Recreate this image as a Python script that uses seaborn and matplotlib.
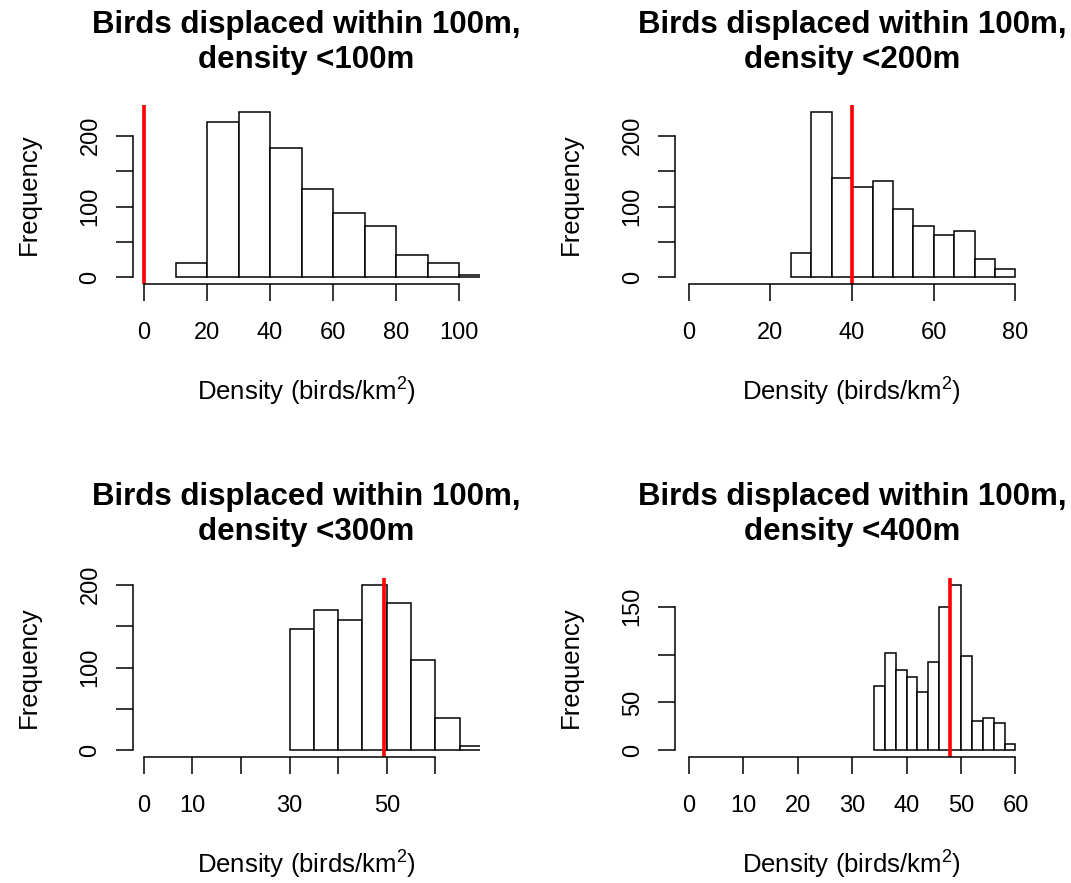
import numpy as np
import pandas as pd
import matplotlib
matplotlib.use("Agg")
import matplotlib.pyplot as plt
import seaborn as sns

# --- data ---
titles = [
    ("Birds displaced within 100m,", "density <100m"),
    ("Birds displaced within 100m,", "density <200m"),
    ("Birds displaced within 100m,", "density <300m"),
    ("Birds displaced within 100m,", "density <400m"),
]

p1_breaks = [10, 20, 30, 40, 50, 60, 70, 80, 90, 100, 110]
p1_counts = [20, 219, 234, 183, 125, 91, 72, 32, 20, 3]
p1_vline = 0
p1_xticks = [0, 20, 40, 60, 80, 100]
p1_xlabels = ["0", "20", "40", "60", "80", "100"]
p1_yticks = [0, 50, 100, 150, 200]
p1_ylabels = ["0", "", "100", "", "200"]
p1_xlim = (-3.6, 106.6)

p2_breaks = [25, 30, 35, 40, 45, 50, 55, 60, 65, 70, 75, 80]
p2_counts = [34, 234, 141, 127, 136, 96, 72, 60, 65, 26, 12]
p2_vline = 40
p2_xticks = [0, 20, 40, 60, 80]
p2_xlabels = ["0", "20", "40", "60", "80"]
p2_yticks = [0, 50, 100, 150, 200]
p2_ylabels = ["0", "", "100", "", "200"]
p2_xlim = (-3.4, 83.3)

p3_breaks = [30, 35, 40, 45, 50, 55, 60, 65, 70]
p3_counts = [147, 169, 157, 200, 178, 109, 39, 5]
p3_vline = 49.5
p3_xticks = [0, 10, 20, 30, 40, 50, 60]
p3_xlabels = ["0", "10", "", "30", "", "50", ""]
p3_yticks = [0, 50, 100, 150, 200]
p3_ylabels = ["0", "", "100", "", "200"]
p3_xlim = (-2.3, 69.2)

p4_breaks = [34, 36, 38, 40, 42, 44, 46, 48, 50, 52, 54, 56, 58, 60]
p4_counts = [67, 102, 84, 77, 61, 92, 150, 173, 98, 31, 34, 29, 7]
p4_vline = 48
p4_xticks = [0, 10, 20, 30, 40, 50, 60]
p4_xlabels = ["0", "10", "20", "30", "40", "50", "60"]
p4_yticks = [0, 50, 100, 150]
p4_ylabels = ["0", "50", "", "150"]
p4_xlim = (-2.55, 62.45)

panels = [
    (p1_breaks, p1_counts, p1_vline, p1_xticks, p1_xlabels, p1_yticks, p1_ylabels, p1_xlim),
    (p2_breaks, p2_counts, p2_vline, p2_xticks, p2_xlabels, p2_yticks, p2_ylabels, p2_xlim),
    (p3_breaks, p3_counts, p3_vline, p3_xticks, p3_xlabels, p3_yticks, p3_ylabels, p3_xlim),
    (p4_breaks, p4_counts, p4_vline, p4_xticks, p4_xlabels, p4_yticks, p4_ylabels, p4_xlim),
]

sns.set_style("ticks")
plt.rcParams["font.family"] = ["Liberation Sans", "DejaVu Sans"]
plt.rcParams["mathtext.fontset"] = "custom"
plt.rcParams["mathtext.rm"] = "Liberation Sans"
plt.rcParams["mathtext.it"] = "Liberation Sans"
for k in ["text.color", "axes.labelcolor", "xtick.color", "ytick.color"]:
    plt.rcParams[k] = "black"

W, H = 1071, 883
fig = plt.figure(figsize=(W / 100, H / 100), dpi=100)

# plot regions in pixels (left, right, top, bottom)
cols = [(132.7, 480.0), (675.0, 1028.8)]
rows = [(105.0, 284.0), (578.0, 757.0)]
title_y = [(25, 60), (497, 532)]

for i, (breaks, counts, vline, xt, xl, yt, yl, xlim) in enumerate(panels):
    r, c = divmod(i, 2)
    x0, x1 = cols[c]
    top, bot = rows[r]
    ax = fig.add_axes([x0 / W, 1 - bot / H, (x1 - x0) / W, (bot - top) / H])

    mids = [(a + b) / 2 for a, b in zip(breaks[:-1], breaks[1:])]
    df = pd.DataFrame({"density": mids, "freq": counts})
    sns.histplot(data=df, x="density", weights="freq", bins=breaks, ax=ax,
                 color="white", edgecolor="black", linewidth=1.1, alpha=1)
    ax.axvline(vline, color="red", linewidth=2.6)

    ymax = max(counts)
    ax.set_ylim(-0.04 * ymax, 1.04 * ymax)
    ax.set_xlim(*xlim)

    ax.set_xticks(xt)
    ax.set_xticklabels(xl)
    ax.set_yticks(yt)
    ax.set_yticklabels(yl, rotation=90, va="center")
    ax.tick_params(axis="both", direction="out", length=12.5, width=1.1,
                   labelsize=17, bottom=True, left=True)
    ax.tick_params(axis="x", pad=15)
    ax.tick_params(axis="y", pad=10)

    for s in ["top", "right"]:
        ax.spines[s].set_visible(False)
    ax.spines["left"].set_bounds(yt[0], yt[-1])
    ax.spines["bottom"].set_bounds(xt[0], xt[-1])
    for s in ["left", "bottom"]:
        ax.spines[s].set_linewidth(1.1)
        ax.spines[s].set_color("black")

    ax.set_xlabel("Density (birds/km$^2$)", fontsize=18.5, labelpad=23)
    ax.set_ylabel("Frequency", fontsize=18.5, labelpad=28)

    cx = (x0 + x1) / 2 / W
    for line, ty in zip(titles[i], title_y[r]):
        fig.text(cx, 1 - ty / H, line, ha="center", va="center",
                 fontsize=22.5, fontweight="bold")

fig.savefig("out.png", dpi=100, facecolor="white")
